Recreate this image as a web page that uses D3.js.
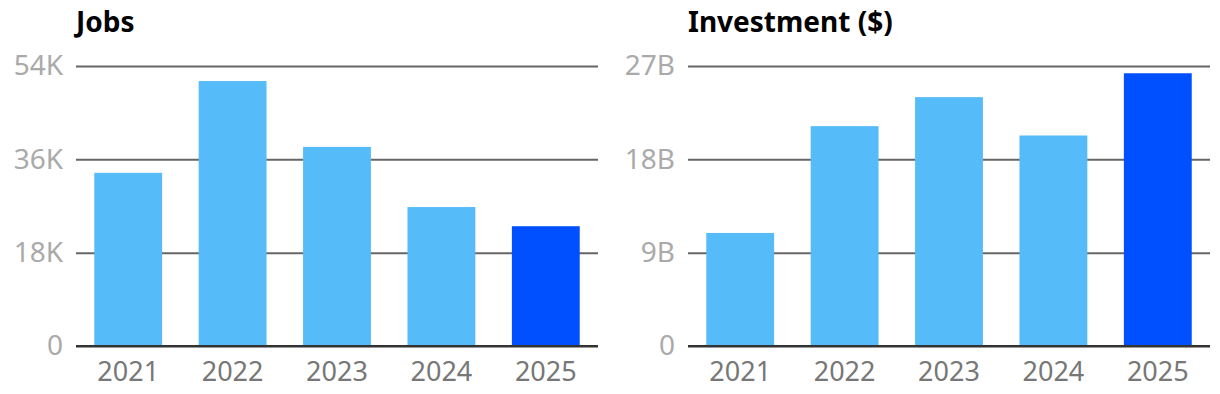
<!DOCTYPE html>
<html>
<head>
<meta charset="utf-8">
<script src="https://cdn.jsdelivr.net/npm/d3@7"></script>
<style>
  body { margin: 0; background: #fff; }
  svg text { font-family: "Noto Sans", sans-serif; }
</style>
</head>
<body>
<svg width="1220" height="394"></svg>
<script>
const years = ["2021", "2022", "2023", "2024", "2025"];
const jobs = [33400, 51100, 38400, 26800, 23100];
const investment = [10.9, 21.2, 24.0, 20.3, 26.3];
const jobsTicks = [0, 18000, 36000, 54000];
const investTicks = [0, 9, 18, 27];
const highlightYear = "2025";

const svg = d3.select("svg");

function drawPanel(left, title, values, ticks, fmt) {
    var g = svg.append("g").attr("transform", "translate(" + left + ",0)");
    var x = d3.scaleBand().domain(years).range([0, 522]).paddingInner(0.35).paddingOuter(0.175);
    var y = d3.scaleLinear().domain([0, ticks[ticks.length - 1]]).range([346, 66]);

    g.append("text")
        .attr("x", 0)
        .attr("y", 32)
        .attr("font-size", 28)
        .attr("font-weight", "bold")
        .attr("fill", "#000")
        .text(title);

    // gridlines + labels
    var yAxis = g.append("g")
        .call(d3.axisLeft(y).tickValues(ticks).tickSize(-522).tickFormat(fmt).tickPadding(13));
    yAxis.select(".domain").remove();
    yAxis.selectAll(".tick line")
        .attr("stroke", d => d === 0 ? "#333" : "#666")
        .attr("stroke-width", 2);
    yAxis.selectAll(".tick text")
        .attr("font-size", 28)
        .attr("fill", "#aaa")
        .attr("font-family", "Noto Sans, sans-serif");

    g.selectAll("rect").data(values).enter().append("rect")
        .attr("x", (d, i) => x(years[i]))
        .attr("y", d => y(d))
        .attr("width", x.bandwidth())
        .attr("height", d => y(0) - y(d) - 1)
        .attr("fill", (d, i) => years[i] === highlightYear ? "#0050ff" : "#56bcf9");

    // redraw baseline on top of bars
    g.append("line")
        .attr("x1", 0).attr("x2", 522)
        .attr("y1", y(0)).attr("y2", y(0))
        .attr("stroke", "#333").attr("stroke-width", 2);

    var xAxis = g.append("g")
        .attr("transform", "translate(0,346)")
        .call(d3.axisBottom(x).tickSize(0).tickPadding(16));
    xAxis.select(".domain").remove();
    xAxis.selectAll(".tick text")
        .attr("font-size", 27)
        .attr("fill", "#777")
        .attr("font-family", "Noto Sans, sans-serif");
}

drawPanel(76, "Jobs", jobs, jobsTicks, d => d === 0 ? "0" : (d / 1000) + "K");
drawPanel(688, "Investment ($)", investment, investTicks, d => d === 0 ? "0" : d + "B");
</script>
</body>
</html>
